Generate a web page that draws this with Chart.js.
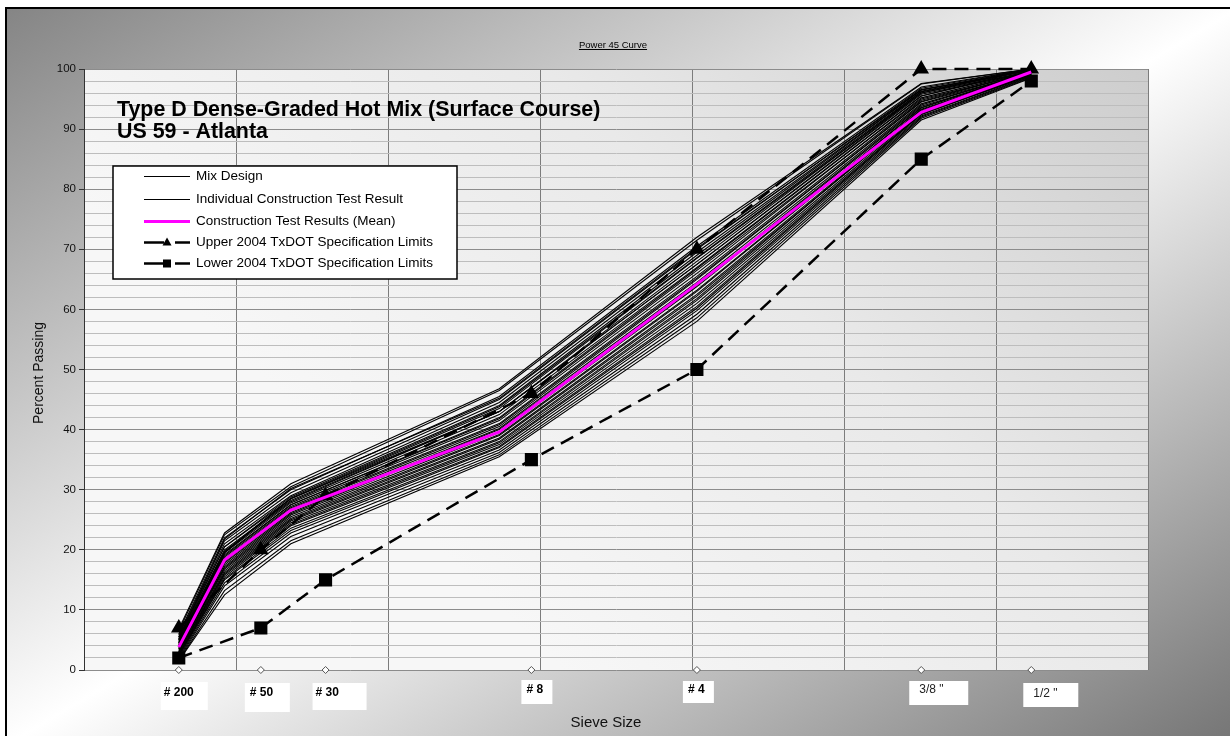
<!DOCTYPE html>
<html>
<head>
<meta charset="utf-8">
<title>Power 45 Curve</title>
<script src="https://cdn.jsdelivr.net/npm/chart.js@4.4.1/dist/chart.umd.min.js"></script>
<style>
  html, body { margin: 0; padding: 0; background: #fff; }
  body { width: 1230px; height: 736px; position: relative; overflow: hidden; }
  #frame {
    position: absolute; left: 5px; top: 7px; width: 1230px; height: 736px;
    border: 2px solid #000;
    background: linear-gradient(to bottom right, #858585 0%, #ffffff 50%, #747474 100%);
  }
  #chart { position: absolute; left: 0; top: 0; }
</style>
</head>
<body>
<div id="frame"></div>
<canvas id="chart" width="1230" height="736"></canvas>
<script>
// sieve openings in mm
const SPEC_SIZES = [0.075, 0.3, 0.6, 2.36, 4.75, 9.5, 12.5];     // #200 #50 #30 #8 #4 3/8" 1/2"
const TEST_SIZES = [0.075, 0.18, 0.425, 2.0, 4.75, 9.5, 12.5];   // #200 #80 #40 #10 #4 3/8" 1/2"
const SIEVE_LABELS = ['# 200', '# 50', '# 30', '# 8', '# 4', '3/8 "', '1/2 "'];

// percent passing
const upperLimits = [7, 20, 29, 46, 70, 100, 100];
const lowerLimits = [2, 7, 15, 35, 50, 85, 98];
const mixDesign = [4.5, 19.5, 28.5, 43.0, 67.5, 96.0, 100];
const testMean = [3.8, 18.3, 26.6, 39.6, 64.2, 92.8, 99.5];
const testResults = [
  [6.5, 22.5, 30.5, 46.5, 71.5, 97.5, 100],
  [6.0, 22.0, 30.0, 45.5, 70.5, 97.0, 100],
  [5.8, 21.5, 29.5, 45.0, 70.0, 96.8, 100],
  [5.5, 21.0, 29.0, 44.5, 69.5, 96.5, 99.8],
  [5.5, 20.5, 28.8, 44.0, 69.0, 96.5, 100],
  [5.2, 20.5, 28.5, 43.5, 68.5, 96.0, 99.6],
  [5.0, 20.0, 28.2, 43.0, 68.0, 96.2, 99.8],
  [5.0, 19.8, 28.0, 43.0, 67.5, 95.8, 99.5],
  [4.8, 19.5, 27.8, 42.5, 67.0, 95.5, 99.7],
  [4.6, 19.2, 27.5, 42.0, 66.8, 95.5, 100],
  [4.5, 19.0, 27.5, 41.8, 66.5, 95.0, 99.4],
  [4.4, 18.8, 27.2, 41.5, 66.0, 95.2, 99.6],
  [4.2, 18.5, 27.0, 41.0, 65.5, 94.8, 99.5],
  [4.0, 18.2, 26.8, 40.8, 65.2, 94.5, 99.3],
  [4.0, 18.0, 26.5, 40.5, 65.0, 94.6, 99.6],
  [3.8, 17.8, 26.2, 40.2, 64.5, 94.2, 99.4],
  [3.6, 17.5, 26.0, 40.0, 64.0, 94.0, 99.5],
  [3.5, 17.2, 25.8, 39.5, 63.8, 93.8, 99.2],
  [3.4, 17.0, 25.5, 39.2, 63.2, 93.5, 99.4],
  [3.2, 16.8, 25.2, 39.0, 63.0, 93.6, 99.6],
  [3.0, 16.5, 25.0, 38.6, 62.5, 93.2, 99.2],
  [3.0, 16.2, 24.8, 38.4, 62.2, 93.0, 99.0],
  [2.8, 16.0, 24.5, 38.0, 61.8, 93.3, 99.3],
  [2.6, 15.8, 24.2, 37.8, 61.5, 92.8, 99.1],
  [2.5, 15.5, 24.0, 37.5, 61.0, 92.6, 99.0],
  [2.4, 15.2, 23.6, 37.2, 60.5, 92.5, 98.9],
  [2.2, 15.0, 23.2, 37.0, 60.2, 92.4, 99.2],
  [2.0, 14.5, 22.8, 36.6, 59.8, 92.2, 98.8],
  [1.8, 14.0, 22.2, 36.2, 59.2, 92.0, 98.7],
  [1.6, 13.2, 21.5, 35.8, 58.6, 91.8, 98.6],
  [1.5, 12.5, 21.0, 35.5, 58.0, 91.5, 98.5],
  [6.8, 22.8, 31.0, 46.8, 72.0, 97.6, 100],
  [5.2, 21.8, 30.2, 45.2, 70.2, 96.6, 99.8],
  [4.2, 19.6, 28.6, 43.8, 68.6, 96.3, 99.9]
];

const FONT = 'Arial, "Liberation Sans", Helvetica, sans-serif';

// 0.45 power chart: x position is the sieve opening raised to 0.45
const pow45 = d => Math.pow(d, 0.45);
const toPoints = (sizes, vals) => vals.map((v, i) => ({ x: pow45(sizes[i]), y: v }));

// label boxes under the sieve markers (offsets from marker x / plot bottom)
const tagLayout = [
  { dx: -18, top: 12, w: 47, h: 28, tx: -15, ty: 23, bold: true },
  { dx: -16, top: 13, w: 45, h: 29, tx: -11, ty: 23, bold: true },
  { dx: -13, top: 13, w: 54, h: 27, tx: -10, ty: 23, bold: true },
  { dx: -10, top: 10, w: 31, h: 24, tx: -5, ty: 20, bold: true },
  { dx: -14, top: 11, w: 31, h: 22, tx: -9, ty: 20, bold: true },
  { dx: -12, top: 11, w: 59, h: 24, tx: -2, ty: 20, bold: false },
  { dx: -8, top: 13, w: 55, h: 24, tx: 2, ty: 24, bold: false }
];

const legendItems = [
  { text: 'Mix Design', kind: 'thin' },
  { text: 'Individual Construction Test Result', kind: 'thin' },
  { text: 'Construction Test Results (Mean)', kind: 'mean' },
  { text: 'Upper 2004 TxDOT Specification Limits', kind: 'upper' },
  { text: 'Lower 2004 TxDOT Specification Limits', kind: 'lower' }
];

const datasets = [
  {
    label: 'Construction Test Results (Mean)',
    data: toPoints(TEST_SIZES, testMean),
    borderColor: '#ff00ff', borderWidth: 3, pointRadius: 0
  },
  {
    label: 'Upper 2004 TxDOT Specification Limits',
    data: toPoints(SPEC_SIZES, upperLimits),
    borderColor: '#000', borderWidth: 2.5, borderDash: [14, 8],
    pointStyle: 'triangle', pointRadius: 6.5,
    pointBackgroundColor: '#000', pointBorderColor: '#000', clip: false
  },
  {
    label: 'Lower 2004 TxDOT Specification Limits',
    data: toPoints(SPEC_SIZES, lowerLimits),
    borderColor: '#000', borderWidth: 2.5, borderDash: [14, 8],
    pointStyle: 'rect', pointRadius: 7.5,
    pointBackgroundColor: '#000', pointBorderColor: '#000', clip: false
  },
  {
    label: 'Mix Design',
    data: toPoints(TEST_SIZES, mixDesign),
    borderColor: '#000', borderWidth: 1.1, pointRadius: 0
  }
];
testResults.forEach((r, i) => {
  datasets.push({
    label: 'Test ' + (i + 1),
    data: toPoints(TEST_SIZES, r),
    borderColor: '#000', borderWidth: 1.1, pointRadius: 0
  });
});
// small hollow diamonds marking each sieve on the axis
datasets.push({
  label: 'Sieves',
  data: SPEC_SIZES.map(d => ({ x: pow45(d), y: 0 })),
  showLine: false, pointStyle: 'rectRot', pointRadius: 3.5,
  pointBackgroundColor: '#fff', pointBorderColor: '#555', pointBorderWidth: 1,
  clip: false
});

function drawLegend(ctx, a) {
  const bx = a.left + 29, by = a.top + 97, bw = 344, bh = 113;
  ctx.fillStyle = '#fff';
  ctx.fillRect(bx, by, bw, bh);
  ctx.strokeStyle = '#000';
  ctx.lineWidth = 1.5;
  ctx.strokeRect(bx, by, bw, bh);

  const rows = [10, 32.5, 55, 76, 97];
  const x0 = bx + 31, x1 = bx + 77;
  ctx.font = '13.5px ' + FONT;
  ctx.textBaseline = 'middle';
  ctx.textAlign = 'left';
  legendItems.forEach((it, i) => {
    const y = Math.round(by + rows[i]) + 0.5;
    ctx.save();
    ctx.strokeStyle = '#000';
    if (it.kind === 'thin') {
      ctx.lineWidth = 1;
      ctx.beginPath(); ctx.moveTo(x0, y); ctx.lineTo(x1, y); ctx.stroke();
    } else if (it.kind === 'mean') {
      ctx.strokeStyle = '#ff00ff';
      ctx.lineWidth = 3;
      ctx.beginPath(); ctx.moveTo(x0, y); ctx.lineTo(x1, y); ctx.stroke();
    } else {
      ctx.lineWidth = 2.5;
      ctx.beginPath();
      ctx.moveTo(x0, y); ctx.lineTo(x0 + 20, y);
      ctx.moveTo(x0 + 31, y); ctx.lineTo(x1, y);
      ctx.stroke();
      ctx.fillStyle = '#000';
      const mx = x0 + 23;
      if (it.kind === 'upper') {
        ctx.beginPath();
        ctx.moveTo(mx, y - 5); ctx.lineTo(mx + 4.5, y + 3); ctx.lineTo(mx - 4.5, y + 3);
        ctx.closePath(); ctx.fill();
      } else {
        ctx.fillRect(mx - 4, y - 4, 8, 8);
      }
    }
    ctx.restore();
    ctx.fillStyle = '#000';
    ctx.fillText(it.text, bx + 83, y);
  });
}

const decorations = {
  id: 'decorations',
  beforeDraw(chart) {
    const { ctx, chartArea: a } = chart;
    const g = ctx.createLinearGradient(a.right, a.top, a.left + a.width * 0.45, a.bottom);
    g.addColorStop(0, '#cdcdcd');
    g.addColorStop(0.5, '#e9e9e9');
    g.addColorStop(1, '#f7f7f7');
    ctx.save();
    ctx.fillStyle = g;
    ctx.fillRect(a.left, a.top, a.width, a.height);
    ctx.restore();
  },
  afterDraw(chart) {
    const { ctx, chartArea: a } = chart;
    const xs = chart.scales.x;
    ctx.save();

    // heading above the plot, underlined
    ctx.fillStyle = '#000';
    ctx.font = '9.5px ' + FONT;
    ctx.textAlign = 'center';
    ctx.textBaseline = 'alphabetic';
    const head = 'Power 45 Curve';
    const hx = 613, hy = 48;
    ctx.fillText(head, hx, hy);
    const hw = ctx.measureText(head).width;
    ctx.lineWidth = 1;
    ctx.strokeStyle = '#000';
    ctx.beginPath();
    ctx.moveTo(hx - hw / 2, hy + 1.5); ctx.lineTo(hx + hw / 2, hy + 1.5);
    ctx.stroke();

    // title inside the plot
    ctx.textAlign = 'left';
    ctx.font = 'bold 21.4px ' + FONT;
    ctx.fillText('Type D Dense-Graded Hot Mix (Surface Course)', a.left + 33, a.top + 47);
    ctx.fillText('US 59 - Atlanta', a.left + 33, a.top + 69);

    drawLegend(ctx, a);

    // sieve name tags
    SIEVE_LABELS.forEach((lab, i) => {
      const t = tagLayout[i];
      const px = xs.getPixelForValue(pow45(SPEC_SIZES[i]));
      ctx.fillStyle = '#fff';
      ctx.fillRect(px + t.dx, a.bottom + t.top, t.w, t.h);
      ctx.fillStyle = t.bold ? '#000' : '#222';
      ctx.font = (t.bold ? 'bold ' : '') + '12px ' + FONT;
      ctx.textAlign = 'left';
      ctx.textBaseline = 'middle';
      ctx.fillText(lab, px + t.tx, a.bottom + t.ty);
    });

    // axis titles
    ctx.fillStyle = '#111';
    ctx.font = '15px ' + FONT;
    ctx.textAlign = 'center';
    ctx.textBaseline = 'middle';
    ctx.fillText('Sieve Size', 606, 723);

    ctx.translate(39, 373);
    ctx.rotate(-Math.PI / 2);
    ctx.font = '14px ' + FONT;
    ctx.fillText('Percent Passing', 0, 0);
    ctx.restore();
  }
};

new Chart(document.getElementById('chart').getContext('2d'), {
  type: 'scatter',
  data: { datasets },
  options: {
    responsive: false,
    animation: false,
    showLine: true,
    layout: { padding: { left: 0, top: 69, right: 82, bottom: 66 } },
    elements: { line: { tension: 0 } },
    plugins: {
      legend: { display: false },
      tooltip: { enabled: false },
      title: { display: false }
    },
    scales: {
      x: {
        type: 'linear', min: 0, max: 3.5,
        ticks: { display: false, stepSize: 0.5 },
        grid: { color: '#7c7c7c', lineWidth: 1, drawTicks: false },
        border: { display: false },
        afterFit(scale) { scale.height = 0; }
      },
      y: {
        type: 'linear', min: 0, max: 100,
        ticks: {
          stepSize: 2, autoSkip: false, padding: 3,
          color: '#111', font: { family: FONT, size: 11.5 },
          callback: v => (v % 10 === 0 ? v : '')
        },
        grid: {
          color: c => (c.tick && c.tick.value % 10 === 0 ? '#8c8c8c' : '#bdbdbd'),
          tickColor: c => (c.tick && c.tick.value % 10 === 0 ? '#333' : 'rgba(0,0,0,0)'),
          tickLength: 5,
          lineWidth: 1
        },
        border: { display: true, color: '#333', width: 1 },
        afterFit(scale) { scale.width = 84; }
      }
    }
  },
  plugins: [decorations]
});
</script>
</body>
</html>
